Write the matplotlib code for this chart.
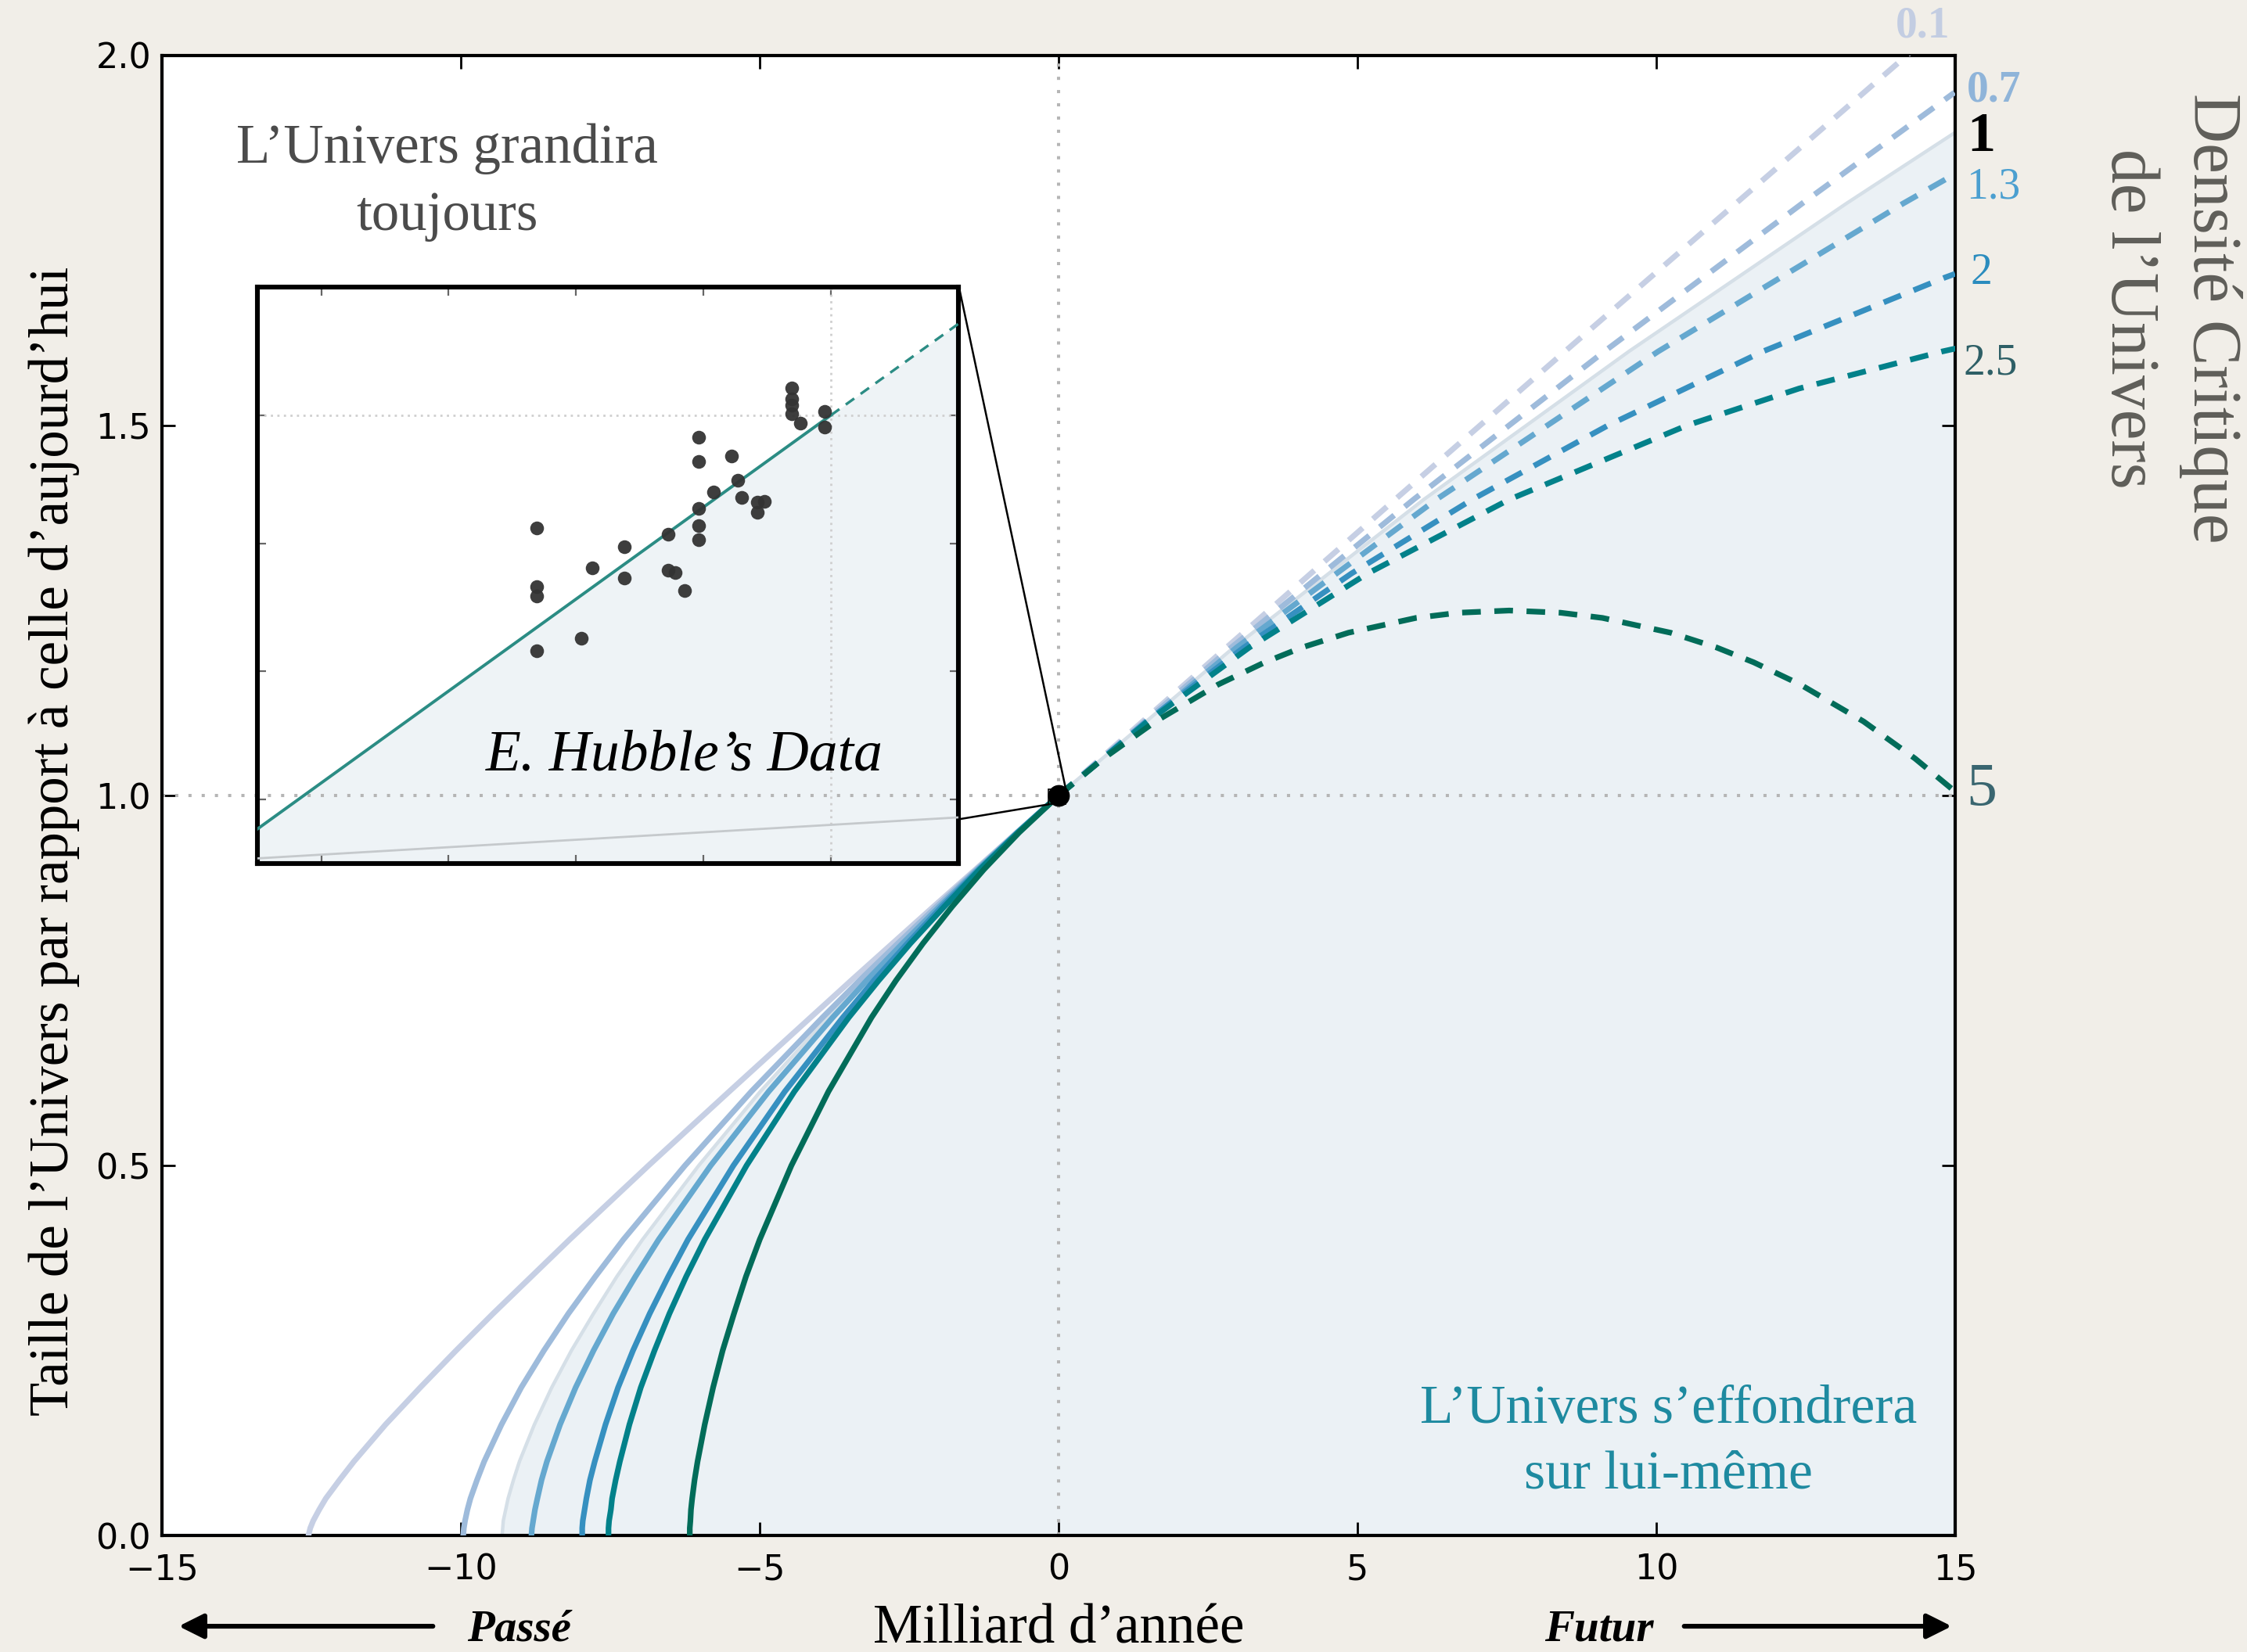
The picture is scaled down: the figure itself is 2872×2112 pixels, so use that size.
import matplotlib
matplotlib.use('Agg')
import matplotlib.pyplot as plt
from matplotlib.patches import Rectangle

# Taille relative de l'Univers (a) en fonction du temps (milliards d'années, 0 = aujourd'hui)
# valeurs, une série par densité critique

# passé : mêmes niveaux de taille pour toutes les courbes
a_past = [0.0, 0.01, 0.02, 0.035, 0.05, 0.075, 0.1, 0.15, 0.2, 0.25, 0.3, 0.35, 0.4,
          0.5, 0.6, 0.7, 0.75, 0.8, 0.85, 0.9, 0.95, 1.0]

# densité 0.1
t_01_past = [-12.55, -12.52, -12.47, -12.37, -12.26, -12.03, -11.79, -11.26, -10.68, -10.08,
             -9.46, -8.82, -8.18, -6.86, -5.51, -4.15, -3.47, -2.78, -2.09, -1.39, -0.70, 0.0]
t_01_fut = [0.0, 2.81, 5.63, 8.47, 11.33, 14.19, 14.91]
a_01_fut = [1.0, 1.2, 1.4, 1.6, 1.8, 2.0, 2.05]

# densité 0.7
t_07_past = [-9.96, -9.95, -9.93, -9.89, -9.84, -9.73, -9.61, -9.32, -8.99, -8.61,
             -8.20, -7.75, -7.28, -6.25, -5.14, -3.95, -3.33, -2.69, -2.04, -1.37, -0.69, 0.0]
t_07_fut = [0.0, 2.89, 5.94, 9.13, 12.44, 14.99]
a_07_fut = [1.0, 1.2, 1.4, 1.6, 1.8, 1.95]

# densité 1 (critique) -> limite de la zone colorée
t_crit_past = [-9.31, -9.30, -9.29, -9.25, -9.21, -9.12, -9.02, -8.77, -8.48, -8.15,
               -7.78, -7.39, -6.96, -6.02, -4.99, -3.86, -3.26, -2.65, -2.02, -1.36, -0.69, 0.0]
t_crit_fut = [0.0, 2.93, 6.11, 9.54, 13.18, 15.0]
a_crit_fut = [1.0, 1.2, 1.4, 1.6, 1.8, 1.896]

# densité 1.3
t_13_past = [-8.82, -8.81, -8.79, -8.76, -8.72, -8.65, -8.56, -8.34, -8.08, -7.78,
             -7.45, -7.08, -6.69, -5.82, -4.85, -3.78, -3.21, -2.61, -1.99, -1.35, -0.69, 0.0]
t_13_fut = [0.0, 2.98, 6.32, 10.03, 14.13, 15.0]
a_13_fut = [1.0, 1.2, 1.4, 1.6, 1.8, 1.84]

# densité 2
t_2_past = [-7.97, -7.97, -7.96, -7.93, -7.90, -7.84, -7.76, -7.58, -7.37, -7.12,
            -6.84, -6.53, -6.20, -5.44, -4.58, -3.61, -3.09, -2.53, -1.95, -1.33, -0.68, 0.0]
t_2_fut = [0.0, 1.47, 3.10, 4.90, 6.92, 9.19, 11.78, 14.83, 15.0]
a_2_fut = [1.0, 1.1, 1.2, 1.3, 1.4, 1.5, 1.6, 1.7, 1.705]

# densité 2.5
t_25_past = [-7.53, -7.53, -7.52, -7.49, -7.47, -7.41, -7.34, -7.18, -6.99, -6.76,
             -6.51, -6.23, -5.92, -5.22, -4.42, -3.51, -3.01, -2.48, -1.91, -1.32, -0.68, 0.0]
t_25_fut = [0.0, 1.49, 3.19, 5.17, 7.54, 10.51, 12.39, 14.78, 15.06]
a_25_fut = [1.0, 1.1, 1.2, 1.3, 1.4, 1.5, 1.55, 1.6, 1.605]

# densité 5
t_5_past = [-6.17, -6.17, -6.16, -6.15, -6.13, -6.09, -6.04, -5.92, -5.78, -5.62,
            -5.43, -5.23, -5.00, -4.47, -3.85, -3.13, -2.72, -2.27, -1.78, -1.25, -0.66, 0.0]
t_5_fut = [0.0, 0.75, 1.62, 2.67, 3.45, 4.07, 4.85, 5.98, 6.69, 7.54, 8.40, 9.10, 10.24, 11.01,
           11.63, 12.41, 13.47, 14.33, 15.08]
a_5_fut = [1.0, 1.05, 1.1, 1.15, 1.18, 1.2, 1.22, 1.24, 1.247, 1.25, 1.247, 1.24, 1.22, 1.2,
           1.18, 1.15, 1.1, 1.05, 1.0]

density_labels = ['0.1', '0.7', '1', '1.3', '2', '2.5', '5']

# Encart : données de Hubble (unités de l'encart)
hub_x = [-2.31, -2.31, -2.31, -2.31, -1.96, -1.87, -1.62, -1.62, -1.28, -1.28, -1.22, -1.15,
         -1.04, -1.04, -1.04, -1.04, -1.04, -0.92, -0.78, -0.73, -0.70, -0.58, -0.52, -0.58,
         -0.31, -0.31, -0.31, -0.31, -0.24, -0.05, -0.05]
hub_y = [-0.88, -1.34, -1.41, -1.84, -1.74, -1.19, -1.03, -1.27, -0.93, -1.21, -1.23, -1.37,
         -0.17, -0.36, -0.73, -0.86, -0.97, -0.60, -0.32, -0.51, -0.64, -0.68, -0.67, -0.76,
         0.21, 0.13, 0.08, 0.01, -0.06, 0.03, -0.09]
ins_t_past = [-4.5, 0.0]
ins_a_past = [-3.23, 0.0]
ins_t_fut = [0.0, 1.0]
ins_a_fut = [0.0, 0.713]
ins_ref_t = [-4.5, 1.0]
ins_ref_a = [-3.46, -3.14]

SERIF = ['Liberation Serif', 'DejaVu Serif']

curves = [
    (t_01_past, t_01_fut, a_01_fut, '#c6cfe4'),
    (t_07_past, t_07_fut, a_07_fut, '#9ebbdb'),
    (t_13_past, t_13_fut, a_13_fut, '#65a8cf'),
    (t_2_past, t_2_fut, a_2_fut, '#3690c0'),
    (t_25_past, t_25_fut, a_25_fut, '#02818a'),
    (t_5_past, t_5_fut, a_5_fut, '#016c59'),
]

fig = plt.figure(figsize=(14.36, 10.56), dpi=200, facecolor='#f1eee8')
ax = fig.add_axes([0.0721, 0.0705, 0.798, 0.8959])
ax.set_facecolor('white')

# zone sous la courbe critique
t_crit = t_crit_past + t_crit_fut[1:]
a_crit = a_past + a_crit_fut[1:]
ax.fill_between(t_crit, a_crit, 0, color='#ebf1f5', lw=0, zorder=1)
ax.plot(t_crit, a_crit, color='#d5dfe7', lw=1.6, zorder=1.5)

dots = (0, (1, 3.2))
ax.axvline(0, color='#b5b5b5', lw=1.45, ls=dots, zorder=2)
ax.axhline(1, color='#b5b5b5', lw=1.45, ls=dots, zorder=2)

for tp, tf, af, col in curves:
    ax.plot(tp, a_past, color=col, lw=2.6, solid_capstyle='round', solid_joinstyle='round',
            zorder=3)
    ax.plot(tf, af, color=col, lw=2.6, ls=(0, (3.3, 2.4)), zorder=3)

ax.plot([0], [1], 'o', color='black', ms=9, zorder=10)

ax.set_xlim(-15, 15)
ax.set_ylim(0, 2)
ax.set_xticks([-15, -10, -5, 0, 5, 10, 15])
ax.set_yticks([0, 0.5, 1.0, 1.5, 2.0])
ax.set_yticklabels(['0.0', '0.5', '1.0', '1.5', '2.0'])
ax.tick_params(direction='in', top=True, right=True, length=6, width=1, labelsize=16)
ax.tick_params(axis='x', pad=8)
ax.tick_params(axis='y', pad=5)
for s in ax.spines.values():
    s.set_linewidth(1.5)

# étiquettes de densité à droite
lab_style = [
    (14.0, 2.04, '#c3cde2', 20, 'bold'),
    (15.19, 1.953, '#8fb4d9', 20, 'bold'),
    (15.2, 1.890, 'black', 26, 'bold'),
    (15.19, 1.822, '#4b9fd0', 20, 'normal'),
    (15.25, 1.706, '#2b8cbe', 20, 'normal'),
    (15.14, 1.584, '#2e5f66', 20, 'normal'),
    (15.19, 1.007, '#3a6670', 28, 'normal'),
]
for txt, (x, y, c, sz, w) in zip(density_labels, lab_style):
    ax.text(x, y, txt, color=c, fontsize=sz, fontweight=w, family=SERIF,
            ha='left', va='center', clip_on=False)

ax.text(-10.23, 1.828, "L\u2019Univers grandira\ntoujours", color='#4b4b4b', fontsize=25.5,
        family=SERIF, ha='center', va='center', linespacing=1.42)
ax.text(10.2, 0.126, "L\u2019Univers s\u2019effondrera\nsur lui-m\u00eame", color='#1e8aa0',
        fontsize=25, family=SERIF, ha='center', va='center', linespacing=1.42)

# encart
ins = fig.add_axes([0.1146, 0.4773, 0.3119, 0.3489])
ins.set_facecolor('white')
ins.fill_between(ins_t_past + ins_t_fut[1:], ins_a_past + ins_a_fut[1:], -3.5,
                 color='#eef3f6', lw=0, zorder=1)
ins.axvline(0, color='#cfcfcf', lw=1, ls=(0, (1, 2)), zorder=2)
ins.axhline(0, color='#cfcfcf', lw=1, ls=(0, (1, 2)), zorder=2)
ins.plot([-15, 15], [1, 1], transform=ax.transData, color='#b5b5b5', lw=1.45, ls=dots, zorder=2)
ins.plot(ins_ref_t, ins_ref_a, color='#c5c9cc', lw=1.0, zorder=3)
ins.plot(ins_t_past, ins_a_past, color='#2b8c84', lw=1.4, zorder=3)
ins.plot(ins_t_fut, ins_a_fut, color='#2b8c84', lw=1.2, ls=(0, (4, 3)), zorder=3)
ins.scatter(hub_x, hub_y, s=40, color='#333333', alpha=0.95, lw=0, zorder=5)
ins.text(-1.15, -2.66, "E. Hubble\u2019s Data", fontsize=26.5, style='italic', family=SERIF,
         ha='center', va='center', zorder=6)
ins.set_xlim(-4.5, 1.0)
ins.set_ylim(-3.5, 1.0)
ins.set_xticks([-4, -3, -2, -1, 0, 1])
ins.set_yticks([-3, -2, -1, 0, 1])
ins.tick_params(direction='in', top=True, right=True, length=4, width=0.8, colors='#666666',
                labelbottom=False, labelleft=False)
for s in ins.spines.values():
    s.set_linewidth(2.2)
    s.set_color('black')

# liens encart -> point d'aujourd'hui
ax.add_patch(Rectangle((-0.17, 0.988), 0.29, 0.021, fill=False, ec='black', lw=0.6, zorder=9))
ax.plot([-1.663, 0.12], [1.686, 1.009], color='black', lw=0.9, zorder=9)
ax.plot([-1.663, -0.17], [0.968, 0.988], color='black', lw=0.9, zorder=9)

# textes autour
fig.text(0.024, 0.491, "Taille de l\u2019Univers par rapport \u00e0 celle d\u2019aujourd\u2019hui",
         rotation=90, fontsize=25.5, family=SERIF, ha='center', va='center')
fig.text(0.9655, 0.8073, "Densit\u00e9 Critique\nde l\u2019Univers", rotation=270, fontsize=31.5,
         family=SERIF, color='#5f5e59', ha='center', va='center', linespacing=1.4)
fig.text(0.4711, 0.0137, "Milliard d\u2019ann\u00e9e", fontsize=25.5, family=SERIF,
         ha='center', va='center')
fig.text(0.2309, 0.0137, "Pass\u00e9", fontsize=20.5, family=SERIF, style='italic',
         fontweight='bold', ha='center', va='center')
fig.text(0.7117, 0.0137, "Futur", fontsize=20.5, family=SERIF, style='italic',
         fontweight='bold', ha='center', va='center')
arr = dict(arrowstyle='-|>', lw=2.2, color='black', mutation_scale=24)
ax.annotate('', xy=(0.0776, 0.0156), xytext=(0.1946, 0.0156), xycoords='figure fraction',
            textcoords='figure fraction', arrowprops=arr, annotation_clip=False)
ax.annotate('', xy=(0.8705, 0.0156), xytext=(0.7476, 0.0156), xycoords='figure fraction',
            textcoords='figure fraction', arrowprops=arr, annotation_clip=False)

fig.savefig('out.png', dpi=200, facecolor=fig.get_facecolor())
